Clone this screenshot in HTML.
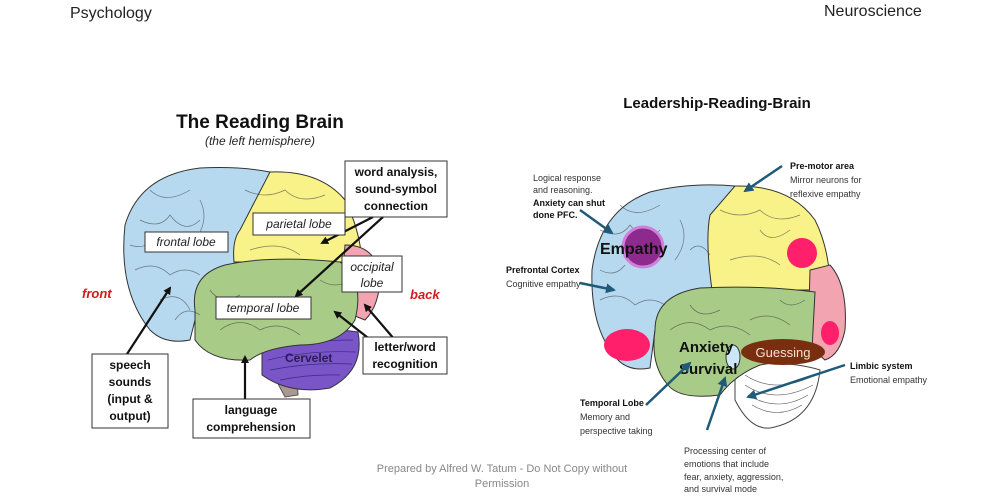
<!DOCTYPE html>
<html><head><meta charset="utf-8"><style>
html,body{margin:0;padding:0;background:#fff;}
svg{display:block;font-family:"Liberation Sans",sans-serif;}
</style></head><body>
<svg width="1000" height="500" viewBox="0 0 1000 500" xmlns="http://www.w3.org/2000/svg">
<defs>
<marker id="ab" markerWidth="8" markerHeight="8" refX="6" refY="4" orient="auto" markerUnits="userSpaceOnUse"><path d="M0,0 L8,4 L0,8 z" fill="#111"/></marker>
<marker id="at" markerWidth="10" markerHeight="10" refX="8" refY="5" orient="auto" markerUnits="userSpaceOnUse"><path d="M0,0 L10,5 L0,10 z" fill="#1f5a7a"/></marker>
</defs>
<rect width="1000" height="500" fill="#fff"/>
<text x="70" y="18" font-size="16" fill="#222">Psychology</text>
<text x="824" y="16" font-size="16" fill="#222">Neuroscience</text>

<!-- LEFT BRAIN -->
<text x="260" y="128" font-size="19" font-weight="bold" text-anchor="middle" fill="#111">The Reading Brain</text>
<text x="260" y="145" font-size="12" font-style="italic" text-anchor="middle" fill="#222">(the left hemisphere)</text>
<path d="M260,350 L295,345 L298,395 L285,397 z" fill="#a89890" stroke="#555"/>
<path d="M262,340 Q310,325 358,332 Q365,370 330,388 Q290,395 262,375 z" fill="#7a55c8" stroke="#333"/>
<g stroke="#3a2a80" stroke-width="0.7" fill="none"><path d="M268,350 q40,-10 85,-10 M268,360 q40,-10 88,-8 M270,370 q40,-8 82,-6 M280,380 q30,-6 60,-5"/></g>
<path d="M150,330 Q118,290 125,225 Q140,175 200,168 Q240,166 270,172 L240,250 L235,265 L200,300 L190,340 Q165,345 150,330 z" fill="#b7d9ef" stroke="#333"/>
<path d="M270,172 Q320,170 345,200 Q360,230 362,262 L234,262 Q232,240 240,230 z" fill="#f8f288" stroke="#333"/>
<path d="M345,245 Q375,245 380,275 Q380,305 365,320 L340,310 Z" fill="#f2a4b0" stroke="#333"/>
<path d="M195,310 Q190,275 225,265 Q270,255 340,262 Q365,280 355,320 Q340,345 300,345 Q265,348 250,360 Q210,362 195,340 z" fill="#a8cc88" stroke="#333"/>
<g stroke="#333" stroke-width="0.7" fill="none" opacity="0.6">
<path d="M140,220 q20,10 30,-5 q15,20 30,5 M135,270 q20,-10 35,5 q15,-10 30,0 M150,190 q15,15 40,0 M200,200 q10,20 -5,40 M160,300 q20,-10 30,10 M245,190 q20,10 40,0 q15,15 40,5 M250,250 q30,-10 50,5 M220,330 q20,-15 40,0 q20,-10 40,5 M210,290 q10,15 30,5 M130,245 q15,5 20,-5 M175,320 q10,-15 25,-5 M320,280 q15,10 30,0"/>
</g>
<text x="82" y="298" font-size="13" font-weight="bold" font-style="italic" fill="#d41a1a">front</text>
<text x="410" y="299" font-size="13" font-weight="bold" font-style="italic" fill="#d41a1a">back</text>
<text x="285" y="362" font-size="12" font-weight="bold" fill="#2a1a55">Cervelet</text>
<g stroke="#111" stroke-width="2.2" fill="none">
<line x1="373" y1="217" x2="322" y2="243" marker-end="url(#ab)"/>
<line x1="383" y1="217" x2="296" y2="296" marker-end="url(#ab)"/>
<line x1="395" y1="340" x2="365" y2="305" marker-end="url(#ab)"/>
<line x1="372" y1="341" x2="335" y2="312" marker-end="url(#ab)"/>
<line x1="127" y1="354" x2="170" y2="288" marker-end="url(#ab)"/>
<line x1="245" y1="399" x2="245" y2="357" marker-end="url(#ab)"/>
</g>
<g fill="#fff" stroke="#333" stroke-width="1">
<rect x="145" y="232" width="83" height="20"/>
<rect x="253" y="213" width="92" height="22"/>
<rect x="345" y="161" width="102" height="56"/>
<rect x="342" y="256" width="60" height="36"/>
<rect x="216" y="297" width="95" height="22"/>
<rect x="363" y="337" width="84" height="37"/>
<rect x="92" y="354" width="76" height="74"/>
<rect x="193" y="399" width="117" height="39"/>
</g>
<g font-size="12" font-style="italic" fill="#222" text-anchor="middle">
<text x="186" y="246">frontal lobe</text>
<text x="299" y="228">parietal lobe</text>
<text x="372" y="271">occipital</text>
<text x="372" y="287">lobe</text>
<text x="263" y="312">temporal lobe</text>
</g>
<g font-size="12" font-weight="bold" fill="#111" text-anchor="middle">
<text x="396" y="176">word analysis,</text>
<text x="396" y="193">sound-symbol</text>
<text x="396" y="210">connection</text>
<text x="405" y="351">letter/word</text>
<text x="405" y="368">recognition</text>
<text x="130" y="369">speech</text>
<text x="130" y="386">sounds</text>
<text x="130" y="403">(input &amp;</text>
<text x="130" y="420">output)</text>
<text x="251" y="414">language</text>
<text x="251" y="431">comprehension</text>
</g>

<!-- RIGHT BRAIN -->
<text x="717" y="108" font-size="15" font-weight="bold" text-anchor="middle" fill="#111">Leadership-Reading-Brain</text>
<path d="M735,365 Q790,360 820,370 Q815,420 770,428 Q750,430 735,400 z" fill="#fff" stroke="#444"/>
<g stroke="#555" stroke-width="0.6" fill="none"><path d="M745,375 q30,20 70,0 M745,385 q30,20 68,0 M748,395 q30,18 60,0 M752,405 q25,15 50,0"/></g>
<path d="M618,360 Q590,330 592,270 Q600,210 650,192 Q690,182 735,186 L710,230 L712,290 L670,300 L655,330 L650,368 Q630,372 618,360 z" fill="#b7d9ef" stroke="#333"/>
<path d="M735,186 Q790,185 815,220 Q830,250 830,290 L712,290 Q705,240 710,215 z" fill="#f8f288" stroke="#333"/>
<path d="M830,265 Q848,285 845,330 Q840,355 825,360 L808,345 L810,270 z" fill="#f2a4b0" stroke="#333"/>
<path d="M655,330 Q655,295 700,288 Q760,285 815,292 L812,350 Q790,360 760,365 Q735,375 720,395 Q680,400 668,385 Q650,365 655,330 z" fill="#a8cc88" stroke="#333"/>
<g stroke="#333" stroke-width="0.7" fill="none" opacity="0.6">
<path d="M600,230 q20,10 30,-5 q15,20 30,5 M600,300 q20,-10 35,5 q15,-10 30,0 M620,205 q15,15 40,0 M680,220 q10,20 -5,40 M720,210 q20,10 40,0 q15,15 40,5 M730,260 q30,-10 50,5 M670,330 q20,-15 40,0 q20,-10 40,5 M690,305 q10,15 30,5 M750,320 q20,-10 40,5 M600,270 q15,8 25,-5 M690,250 q10,-10 20,5 M760,230 q10,15 30,0 M780,300 q10,10 25,0"/>
</g>
<circle cx="643" cy="247" r="20" fill="#8e2a8e" stroke="#d080d8" stroke-width="3"/>
<circle cx="802" cy="253" r="15" fill="#ff1f6a"/>
<ellipse cx="627" cy="345" rx="23" ry="16" fill="#ff1f6a"/>
<ellipse cx="830" cy="333" rx="9" ry="12" fill="#ff1f6a"/>
<ellipse cx="733" cy="357" rx="7" ry="12" fill="#cde6f5" stroke="#333"/>
<ellipse cx="783" cy="352" rx="42" ry="13" fill="#7a2e10"/>
<text x="783" y="357" font-size="13" text-anchor="middle" fill="#f4e2d4">Guessing</text>
<text x="600" y="254" font-size="16" font-weight="bold" fill="#111">Empathy</text>
<text x="679" y="352" font-size="15" font-weight="bold" fill="#111">Anxiety</text>
<text x="679" y="374" font-size="15" font-weight="bold" fill="#111">Survival</text>
<g stroke="#1f5a7a" stroke-width="2.5" fill="none">
<line x1="580" y1="210" x2="612" y2="233" marker-end="url(#at)"/>
<line x1="782" y1="166" x2="745" y2="191" marker-end="url(#at)"/>
<line x1="580" y1="283" x2="614" y2="290" marker-end="url(#at)"/>
<line x1="646" y1="405" x2="690" y2="363" marker-end="url(#at)"/>
<line x1="707" y1="430" x2="725" y2="378" marker-end="url(#at)"/>
<line x1="845" y1="365" x2="748" y2="397" marker-end="url(#at)"/>
</g>
<g font-size="9" fill="#333">
<text x="533" y="181">Logical response</text>
<text x="533" y="193">and reasoning.</text>
<text x="533" y="206" font-weight="bold" fill="#111">Anxiety can shut</text>
<text x="533" y="218" font-weight="bold" fill="#111">done PFC.</text>
<text x="790" y="169" font-weight="bold" fill="#111">Pre-motor area</text>
<text x="790" y="183">Mirror neurons for</text>
<text x="790" y="197">reflexive empathy</text>
<text x="506" y="273" font-weight="bold" fill="#111">Prefrontal Cortex</text>
<text x="506" y="287">Cognitive empathy</text>
<text x="580" y="406" font-weight="bold" fill="#111">Temporal Lobe</text>
<text x="580" y="420">Memory and</text>
<text x="580" y="434">perspective taking</text>
<text x="850" y="369" font-weight="bold" fill="#111">Limbic system</text>
<text x="850" y="383">Emotional empathy</text>
<text x="684" y="454">Processing center of</text>
<text x="684" y="467">emotions that include</text>
<text x="684" y="480">fear, anxiety, aggression,</text>
<text x="684" y="492">and survival mode</text>
</g>
<text x="502" y="472" font-size="11" text-anchor="middle" fill="#888">Prepared by Alfred W. Tatum - Do Not Copy without</text>
<text x="502" y="487" font-size="11" text-anchor="middle" fill="#888">Permission</text>
</svg>
</body></html>
